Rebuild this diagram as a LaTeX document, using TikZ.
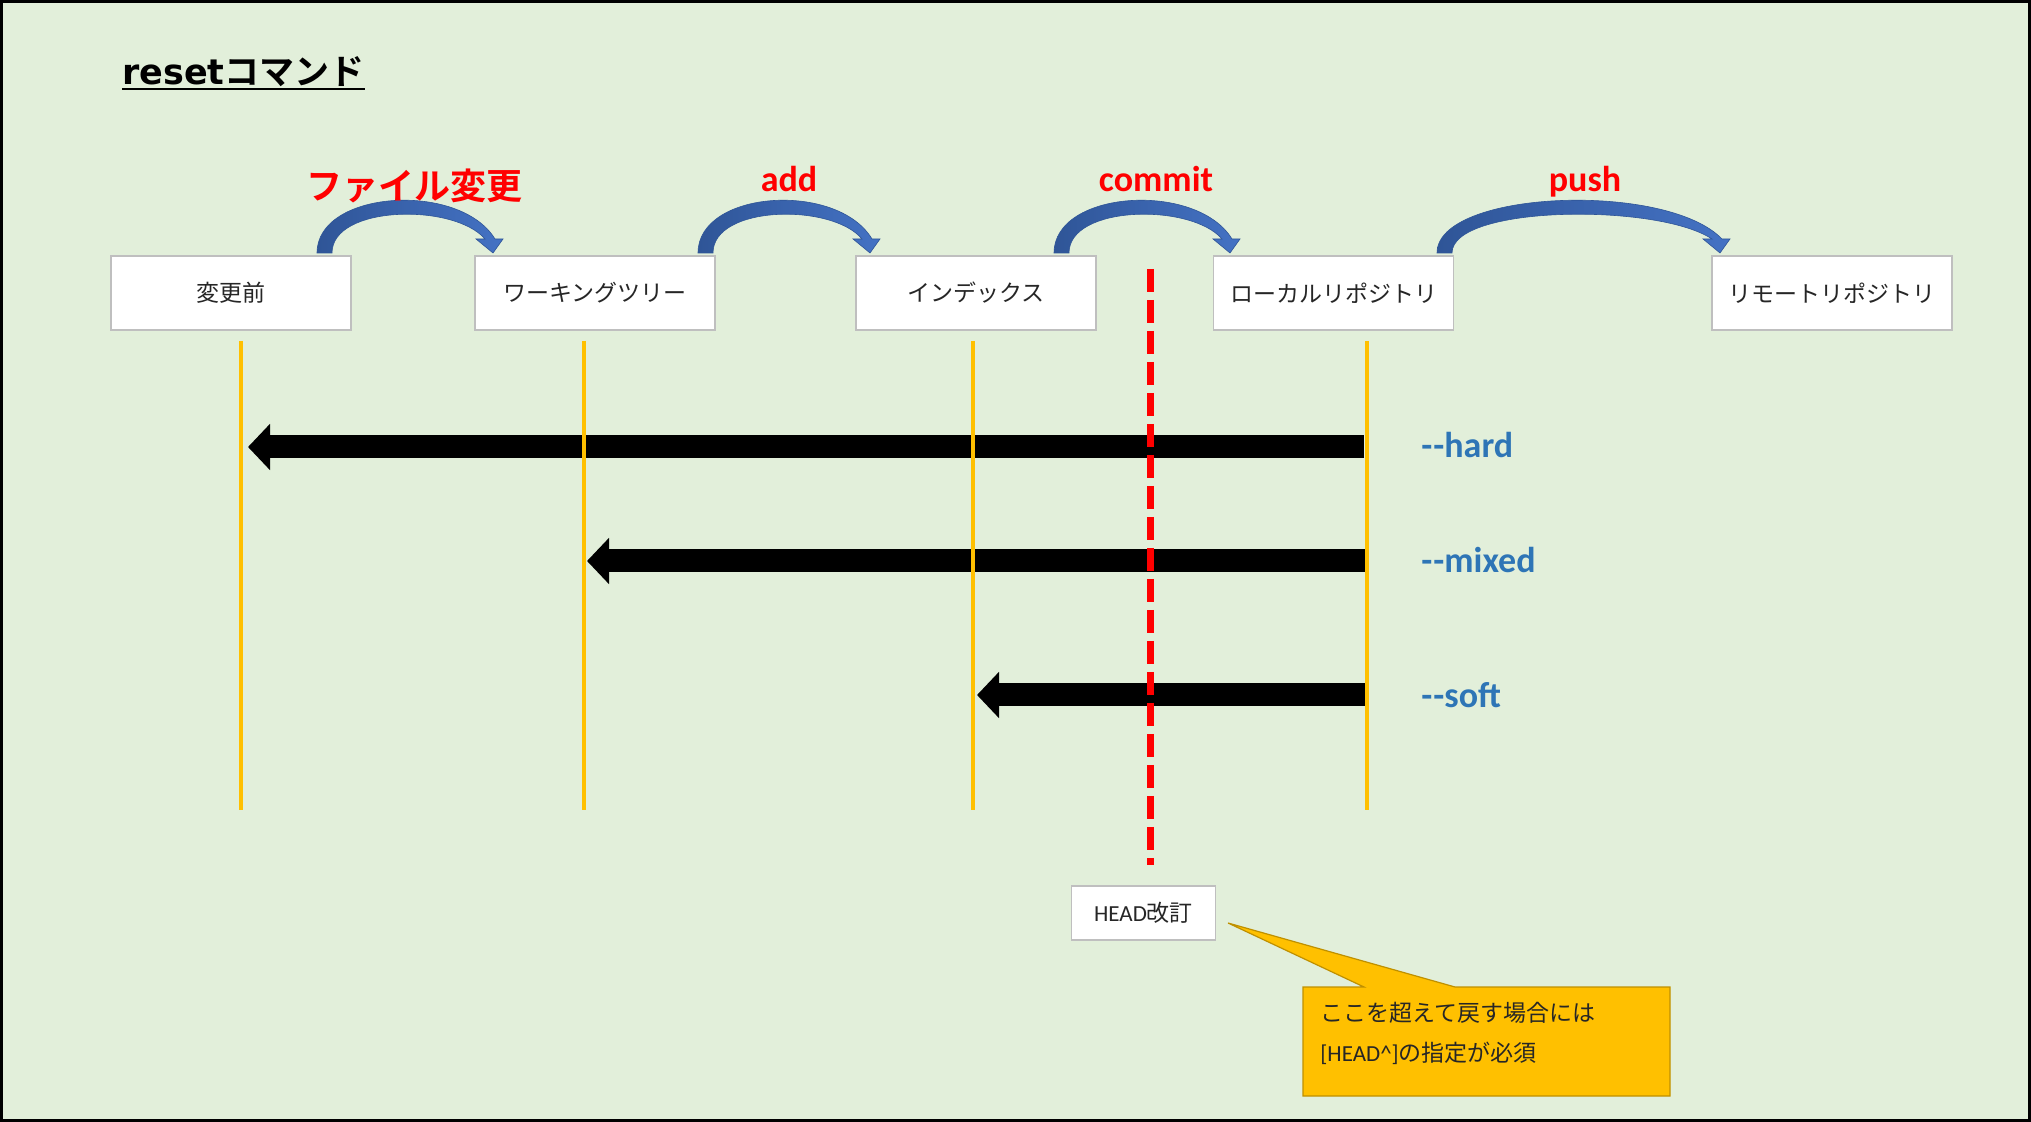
\documentclass[tikz,border=0pt]{standalone}
\usepackage{fontspec}
\setmainfont{Carlito}
\newfontfamily\cjk{Noto Sans CJK JP}
\newfontfamily\cjkb{Noto Sans CJK JP Bold}
\newfontfamily\dejav{DejaVu Sans}
\usetikzlibrary{arrows.meta}
\definecolor{bg}{HTML}{E2EFDA}
\definecolor{boxline}{HTML}{BFBFBF}
\definecolor{gold}{HTML}{FFC000}
\definecolor{goldline}{HTML}{BF9000}
\definecolor{arcdark}{HTML}{2F5597}
\definecolor{arclight}{HTML}{4472C4}
\definecolor{optblue}{HTML}{2E75B6}
\definecolor{txt}{HTML}{262626}
% curved block arrow: #1 = tail left x, #2 = tip x
\newcommand\bluearc[2]{%
  \pgfmathsetmacro\arcW{#2-#1}%
  \path[left color=arcdark, right color=arclight, draw=arcdark, line width=0.3pt]
    (#1,253) .. controls (#1,190) and ({#1+0.81*\arcW},181) .. ({#2+2},239)
    -- ({#2+10},239) -- (#2,253) -- ({#2-17},239) -- ({#2-8},239)
    .. controls ({#1+0.78*\arcW},203) and ({#1+15},205) .. ({#1+15},253) -- cycle;
}
\begin{document}
\begin{tikzpicture}[x=0.5pt,y=-0.5pt,
  stagebox/.style={draw=boxline, line width=0.8pt, fill=white, minimum width=120pt,
    minimum height=37pt, inner sep=0pt, font=\cjk\fontsize{11.5}{14}\selectfont, text=txt},
  cmdlabel/.style={anchor=base, text=red, inner sep=0pt, font=\bfseries\fontsize{18}{22}\selectfont},
  optlabel/.style={anchor=base west, text=optblue, inner sep=0pt, font=\bfseries\fontsize{18}{22}\selectfont},
  guide/.style={draw=gold, line width=1.75pt},
  resetarrow/.style={draw=black, line width=11.5pt, -{Triangle[width=22.5pt,length=11pt]}},
  notetext/.style={anchor=base west, inner sep=0pt, text=txt, font=\cjk\fontsize{11.5}{14}\selectfont},
]
\useasboundingbox (0,0) rectangle (2031,1122);
\fill[bg] (0,0) rectangle (2031,1122);
\draw[line width=1.5pt] (1.5,1.5) rectangle (2029.5,1120.5);

% title
\node[anchor=base west, inner sep=0pt, font=\fontsize{17.5}{21}\selectfont] (title) at (122,85)
  {{\dejav\bfseries reset}{\cjkb コマンド}};
\draw[line width=1.3pt] ([yshift=-2pt]title.base west) -- ([yshift=-2pt]title.base east);

% stage boxes
\node[stagebox] (b1) at (231,293) {変更前};
\node[stagebox] (b2) at (595,293) {ワーキングツリー};
\node[stagebox] (b3) at (976,293) {インデックス};
\node[stagebox] (b4) at (1333.5,293) {ローカルリポジトリ};
\node[stagebox] (b5) at (1832,293) {リモートリポジトリ};

% curved arrows
\bluearc{317}{493}
\bluearc{698}{870}
\bluearc{1054}{1230}
\bluearc{1437}{1720}

% command labels
\node[cmdlabel, font=\cjkb\fontsize{18}{22}\selectfont] (l1) at (414,200) {ファイル変更};
\node[cmdlabel] (l2) at (789,192) {add};
\node[cmdlabel] (l3) at (1156,192) {commit};
\node[cmdlabel] (l4) at (1585,192) {push};

% reset arrows
\coordinate (hardS) at (1364,447);  \coordinate (hardE) at (248,447);
\coordinate (mixS) at (1365,561);   \coordinate (mixE) at (587,561);
\coordinate (softS) at (1365,695);  \coordinate (softE) at (977,695);
\draw[resetarrow] (hardS) -- (hardE);
\draw[resetarrow] (mixS) -- (mixE);
\draw[resetarrow] (softS) -- (softE);

% guide lines
\coordinate (g1a) at (241,341);  \coordinate (g1b) at (241,810);
\coordinate (g2a) at (584,341);  \coordinate (g2b) at (584,810);
\coordinate (g3a) at (973,341);  \coordinate (g3b) at (973,810);
\coordinate (g4a) at (1367,341); \coordinate (g4b) at (1367,810);
\draw[guide] (g1a) -- (g1b);
\draw[guide] (g2a) -- (g2b);
\draw[guide] (g3a) -- (g3b);
\draw[guide] (g4a) -- (g4b);

% HEAD line
\coordinate (hdA) at (1150,269); \coordinate (hdB) at (1150,865);
\draw[red, line width=3.5pt, dash pattern=on 11.5pt off 4pt] (hdA) -- (hdB);

% option labels
\node[optlabel] (oh) at (1421,458) {-\kern0.5pt-hard};
\node[optlabel] (om) at (1421,573) {-\kern0.5pt-mixed};
\node[optlabel] (os) at (1421,708) {-\kern0.5pt-soft};

% HEAD box
\node[stagebox, minimum width=72pt, minimum height=27pt, font=\fontsize{11.5}{13}\selectfont] (head)
  at (1143.5,913) {HEAD{\cjk 改訂}};

% callout
\path[fill=gold, draw=goldline, line width=0.6pt]
  (1303,987) -- (1364,987) -- (1228,923) -- (1455,987) -- (1670,987)
  -- (1670,1096) -- (1303,1096) -- cycle;
\node[notetext] (n1) at (1320,1021) {ここを超えて戻す場合には};
\node[notetext] (n2) at (1320,1061) {{\rmfamily[HEAD\textasciicircum]}の指定が必須};
\end{tikzpicture}
\end{document}
